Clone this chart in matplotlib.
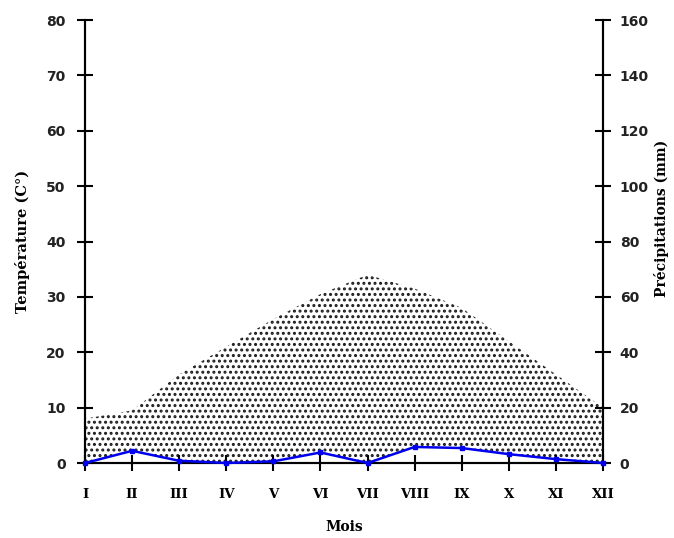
import numpy as np
import matplotlib
matplotlib.use("Agg")
import matplotlib.pyplot as plt

# monthly climate values
months = ['I', 'II', 'III', 'IV', 'V', 'VI', 'VII', 'VIII', 'IX', 'X', 'XI', 'XII']
temperature = [8, 9.5, 16, 21, 26, 30.5, 34, 31.5, 28, 22, 16, 10]      # deg C
precipitation = [0, 4.4, 0.8, 0, 0.6, 3.8, 0, 5.8, 5.4, 3.2, 1.4, 0]   # mm

plt.rcParams['hatch.linewidth'] = 1.4

fig = plt.figure(figsize=(6.74, 5.38), dpi=100)
ax = fig.add_axes([0.1261, 0.1394, 0.7686, 0.8234])
ax2 = ax.twinx()

x = np.arange(len(months))
temp = np.array(temperature)
prec = np.array(precipitation)

# dry period: dotted area between temperature and precipitation (P = 2T scale)
ax.fill_between(x, prec / 2.0, temp, facecolor='white', edgecolor='#1a1a1a',
                hatch='...', linewidth=0, zorder=1)

ax2.plot(x, prec, color='#0000ee', linewidth=1.8, marker='s', markersize=3.5,
         clip_on=False, zorder=5)

ax.set_xlim(0, 11)
ax.set_ylim(0, 80)
ax2.set_ylim(0, 160)

for a in (ax, ax2):
    a.spines['top'].set_visible(False)
    for s in a.spines.values():
        s.set_linewidth(1.5)

ax.set_xticks(x)
ax.set_xticklabels(months, fontfamily='DejaVu Serif', fontweight='bold', fontsize=9.5)
ax.set_yticks(np.arange(0, 81, 10))
ax2.set_yticks(np.arange(0, 161, 20))

ax.tick_params(axis='x', direction='inout', length=12, width=1.5, pad=12)
ax.tick_params(axis='y', direction='inout', length=12, width=1.5, pad=8,
               labelsize=10)
ax2.tick_params(axis='y', direction='inout', length=12, width=1.5, pad=6,
                labelsize=10)
for lbl in ax.get_yticklabels() + ax2.get_yticklabels():
    lbl.set_fontweight('bold')
    lbl.set_color('#222222')

ax.set_ylabel('Température (C°)', fontfamily='DejaVu Serif', fontweight='bold',
              fontsize=10.5, labelpad=12)
ax2.set_ylabel('Précipitations (mm)', fontfamily='DejaVu Serif', fontweight='bold',
               fontsize=10, labelpad=4, y=0.553)
ax.set_xlabel('Mois', fontfamily='DejaVu Serif', fontweight='bold', fontsize=10,
              labelpad=14)

fig.savefig('out.png', dpi=100)
